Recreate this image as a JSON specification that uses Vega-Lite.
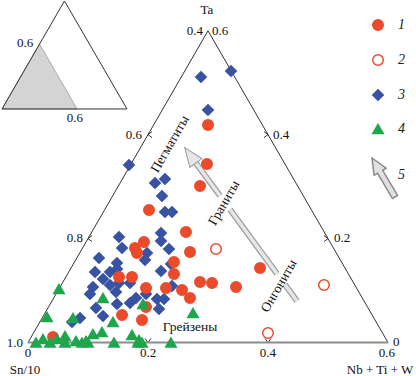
{
  "$schema": "https://vega.github.io/schema/vega-lite/v6.json",
  "width": 416,
  "height": 376,
  "autosize": "none",
  "padding": 0,
  "background": "white",
  "config": {"view": {"stroke": null}, "text": {"font": "Liberation Serif", "fontSize": 12.5, "color": "#111", "baseline": "middle"}},
  "encoding": {
    "x": {"field": "x", "type": "quantitative", "scale": {"domain": [-0.046667, 0.646667], "nice": false, "zero": false}, "axis": null},
    "y": {"field": "y", "type": "quantitative", "scale": {"domain": [-0.055833, 0.570833], "nice": false, "zero": false}, "axis": null}
  },
  "layer": [
    {
      "data": {"values": [{"x": -0.0433, "y": 0.3892}, {"x": 0.0192, "y": 0.4975}, {"x": 0.0817, "y": 0.3892}]},
      "mark": {"type": "area", "fill": "#d4d4d4", "stroke": "#9a9a9a", "strokeWidth": 0.8},
      "encoding": {"y2": {"datum": 0.3892}}
    },
    {
      "data": {"values": [
        {"seg": "io", "o": 0, "x": -0.0433, "y": 0.3892}, {"seg": "io", "o": 1, "x": 0.0608, "y": 0.5692},
        {"seg": "io", "o": 2, "x": 0.165, "y": 0.3892}, {"seg": "io", "o": 3, "x": -0.0433, "y": 0.3892},
        {"seg": "L", "o": 0, "x": 0, "y": 0}, {"seg": "L", "o": 1, "x": 0.3, "y": 0.5196},
        {"seg": "R", "o": 0, "x": 0.3, "y": 0.5196}, {"seg": "R", "o": 1, "x": 0.6, "y": 0},
        {"seg": "b2", "o": 0, "x": 0.195, "y": 0.0067}, {"seg": "b2", "o": 1, "x": 0.2, "y": 0}, {"seg": "b2", "o": 2, "x": 0.205, "y": 0.0067},
        {"seg": "b4", "o": 0, "x": 0.395, "y": 0.0067}, {"seg": "b4", "o": 1, "x": 0.4, "y": 0}, {"seg": "b4", "o": 2, "x": 0.405, "y": 0.0067},
        {"seg": "l8", "o": 0, "x": 0.1067, "y": 0.1782}, {"seg": "l8", "o": 1, "x": 0.1, "y": 0.1732}, {"seg": "l8", "o": 2, "x": 0.1067, "y": 0.1682},
        {"seg": "l6", "o": 0, "x": 0.2067, "y": 0.3514}, {"seg": "l6", "o": 1, "x": 0.2, "y": 0.3464}, {"seg": "l6", "o": 2, "x": 0.2067, "y": 0.3414},
        {"seg": "r2", "o": 0, "x": 0.4933, "y": 0.1782}, {"seg": "r2", "o": 1, "x": 0.5, "y": 0.1732}, {"seg": "r2", "o": 2, "x": 0.4933, "y": 0.1682},
        {"seg": "r4", "o": 0, "x": 0.3933, "y": 0.3514}, {"seg": "r4", "o": 1, "x": 0.4, "y": 0.3464}, {"seg": "r4", "o": 2, "x": 0.3933, "y": 0.3414}
      ]},
      "mark": {"type": "line", "stroke": "#333", "strokeWidth": 1},
      "encoding": {"detail": {"field": "seg"}, "order": {"field": "o"}}
    },
    {
      "data": {"values": [{"x": 0, "y": 0}, {"x": 0.6, "y": 0}]},
      "mark": {"type": "line", "stroke": "#8c8c8c", "strokeWidth": 2},
      "encoding": {}
    },
    {
      "data": {"values": [
        {"seg": "A", "x": 0.2767, "y": 0.3035}, {"seg": "A", "x": 0.32, "y": 0.2445},
        {"seg": "B", "x": 0.3367, "y": 0.2217}, {"seg": "B", "x": 0.415, "y": 0.1147},
        {"seg": "C", "x": 0.4283, "y": 0.0965}, {"seg": "C", "x": 0.4483, "y": 0.0692}
      ]},
      "mark": {"type": "line", "stroke": "#9a9a9a", "strokeWidth": 6, "strokeCap": "butt"},
      "encoding": {"detail": {"field": "seg"}}
    },
    {
      "data": {"values": [
        {"seg": "A", "x": 0.2767, "y": 0.3035}, {"seg": "A", "x": 0.32, "y": 0.2445},
        {"seg": "B", "x": 0.3367, "y": 0.2217}, {"seg": "B", "x": 0.415, "y": 0.1147},
        {"seg": "C", "x": 0.4283, "y": 0.0965}, {"seg": "C", "x": 0.4483, "y": 0.0692}
      ]},
      "mark": {"type": "line", "stroke": "#e6e6e6", "strokeWidth": 3.6, "strokeCap": "butt"},
      "encoding": {"detail": {"field": "seg"}}
    },
    {
      "data": {"values": [{"x": 0.2705, "y": 0.312}]},
      "mark": {"type": "point", "shape": "M0,-9.5L7.5,9.5L-7.5,9.5Z", "size": 4, "angle": 323.8, "filled": true, "fill": "#e6e6e6", "stroke": "#9a9a9a", "strokeWidth": 1, "opacity": 1}
    },
    {
      "data": {"values": [
        {"t": "3", "x": 0.3383, "y": 0.4525}, {"t": "3", "x": 0.2883, "y": 0.4425}, {"t": "3", "x": 0.3, "y": 0.3875},
        {"t": "3", "x": 0.1683, "y": 0.2958}, {"t": "3", "x": 0.2117, "y": 0.2658}, {"t": "3", "x": 0.2283, "y": 0.2725},
        {"t": "3", "x": 0.2233, "y": 0.2442}, {"t": "3", "x": 0.2283, "y": 0.2175}, {"t": "3", "x": 0.24, "y": 0.2175},
        {"t": "3", "x": 0.1517, "y": 0.1758}, {"t": "3", "x": 0.2217, "y": 0.1825}, {"t": "3", "x": 0.2217, "y": 0.1692},
        {"t": "3", "x": 0.1567, "y": 0.1575}, {"t": "3", "x": 0.1983, "y": 0.1492}, {"t": "3", "x": 0.235, "y": 0.1558},
        {"t": "3", "x": 0.1183, "y": 0.1408}, {"t": "3", "x": 0.195, "y": 0.1375}, {"t": "3", "x": 0.1483, "y": 0.1325},
        {"t": "3", "x": 0.2383, "y": 0.1308}, {"t": "3", "x": 0.1117, "y": 0.1175}, {"t": "3", "x": 0.1367, "y": 0.1175},
        {"t": "3", "x": 0.1483, "y": 0.1225}, {"t": "3", "x": 0.2217, "y": 0.1192}, {"t": "3", "x": 0.125, "y": 0.1058},
        {"t": "3", "x": 0.1367, "y": 0.0958}, {"t": "3", "x": 0.1517, "y": 0.0992}, {"t": "3", "x": 0.17, "y": 0.0992},
        {"t": "3", "x": 0.24, "y": 0.0942}, {"t": "3", "x": 0.1083, "y": 0.0925}, {"t": "3", "x": 0.1033, "y": 0.0808},
        {"t": "3", "x": 0.1467, "y": 0.0842}, {"t": "3", "x": 0.1967, "y": 0.0808}, {"t": "3", "x": 0.18, "y": 0.0742},
        {"t": "3", "x": 0.215, "y": 0.0725}, {"t": "3", "x": 0.2267, "y": 0.0725}, {"t": "3", "x": 0.17, "y": 0.0658},
        {"t": "3", "x": 0.1483, "y": 0.0642}, {"t": "3", "x": 0.1133, "y": 0.0575}, {"t": "3", "x": 0.2183, "y": 0.0558},
        {"t": "3", "x": 0.125, "y": 0.0442}, {"t": "3", "x": 0.0867, "y": 0.0408}, {"t": "3", "x": 0.0733, "y": 0.0342},
        {"t": "1", "x": 0.3, "y": 0.3625}, {"t": "1", "x": 0.2983, "y": 0.2975}, {"t": "1", "x": 0.2867, "y": 0.2608},
        {"t": "1", "x": 0.2017, "y": 0.2208}, {"t": "1", "x": 0.2633, "y": 0.1842}, {"t": "1", "x": 0.1933, "y": 0.1675},
        {"t": "1", "x": 0.1783, "y": 0.1575}, {"t": "1", "x": 0.1817, "y": 0.1492}, {"t": "1", "x": 0.27, "y": 0.1508},
        {"t": "1", "x": 0.2433, "y": 0.1342}, {"t": "1", "x": 0.2433, "y": 0.1142}, {"t": "1", "x": 0.1733, "y": 0.1092},
        {"t": "1", "x": 0.1517, "y": 0.1092}, {"t": "1", "x": 0.3867, "y": 0.1242}, {"t": "1", "x": 0.2867, "y": 0.1008},
        {"t": "1", "x": 0.3067, "y": 0.0992}, {"t": "1", "x": 0.3467, "y": 0.0925}, {"t": "1", "x": 0.1967, "y": 0.0908},
        {"t": "1", "x": 0.23, "y": 0.0908}, {"t": "1", "x": 0.2567, "y": 0.0875}, {"t": "1", "x": 0.27, "y": 0.0742},
        {"t": "1", "x": 0.1967, "y": 0.0592}, {"t": "1", "x": 0.19, "y": 0.0375}, {"t": "1", "x": 0.1567, "y": 0.0458},
        {"t": "1", "x": 0.0417, "y": 0.0092},
        {"t": "2", "x": 0.3133, "y": 0.1558}, {"t": "2", "x": 0.4933, "y": 0.0958}, {"t": "2", "x": 0.4, "y": 0.0158},
        {"t": "4", "x": 0.0517, "y": 0.0892}, {"t": "4", "x": 0.0317, "y": 0.0425}, {"t": "4", "x": 0.075, "y": 0.0408},
        {"t": "4", "x": 0.1417, "y": 0.0342}, {"t": "4", "x": 0.125, "y": 0.0742}, {"t": "4", "x": 0.1917, "y": 0.0642},
        {"t": "4", "x": 0.275, "y": 0.0492}, {"t": "4", "x": 0.1083, "y": 0.0142}, {"t": "4", "x": 0.1233, "y": 0.0175},
        {"t": "4", "x": 0.1733, "y": 0.0125}, {"t": "4", "x": 0.0133, "y": 0.0}, {"t": "4", "x": 0.025, "y": 0.0058},
        {"t": "4", "x": 0.0367, "y": 0.0}, {"t": "4", "x": 0.0483, "y": 0.0058}, {"t": "4", "x": 0.0617, "y": 0.0108},
        {"t": "4", "x": 0.0617, "y": 0.0}, {"t": "4", "x": 0.08, "y": 0.0025}, {"t": "4", "x": 0.09, "y": 0.0},
        {"t": "4", "x": 0.0967, "y": 0.0025}, {"t": "4", "x": 0.1, "y": 0.0}, {"t": "4", "x": 0.1433, "y": 0.0},
        {"t": "4", "x": 0.1833, "y": 0.0}, {"t": "4", "x": 0.185, "y": 0.0042}, {"t": "4", "x": 0.19, "y": 0.0},
        {"t": "4", "x": 0.2383, "y": 0.0}
      ]},
      "mark": {"type": "point", "filled": true, "size": 110, "strokeWidth": 1.5, "opacity": 1},
      "encoding": {
        "shape": {"field": "t", "type": "nominal",
          "scale": {"domain": ["1", "2", "3", "4", "5"], "range": ["circle", "circle", "diamond", "triangle-up", "M-1.144,-3.242L1.556,-1.293L0.898,-0.904L3.734,3.905L2.750,4.485L-0.086,-0.324L-0.744,0.065Z"]},
          "legend": {"title": null, "orient": "none", "legendX": 371, "legendY": 18, "symbolSize": 110, "symbolStrokeWidth": 1.5, "labelFont": "Liberation Serif", "labelFontStyle": "italic", "labelFontSize": 14, "labelColor": "#222", "rowPadding": 17, "labelOffset": 13, "padding": 0}},
        "fill": {"field": "t", "type": "nominal",
          "scale": {"domain": ["1", "2", "3", "4", "5"], "range": ["#eb4a2b", "#ffffff", "#3852a4", "#1fa64d", "#e0e0e0"]},
          "legend": {"title": null, "orient": "none", "legendX": 371, "legendY": 18, "symbolSize": 110, "symbolStrokeWidth": 1.5, "labelFont": "Liberation Serif", "labelFontStyle": "italic", "labelFontSize": 14, "labelColor": "#222", "rowPadding": 17, "labelOffset": 13, "padding": 0}},
        "stroke": {"field": "t", "type": "nominal",
          "scale": {"domain": ["1", "2", "3", "4", "5"], "range": ["#eb4a2b", "#eb4a2b", "#3852a4", "#1fa64d", "#8a8a8a"]},
          "legend": {"title": null, "orient": "none", "legendX": 371, "legendY": 18, "symbolSize": 110, "symbolStrokeWidth": 1.5, "labelFont": "Liberation Serif", "labelFontStyle": "italic", "labelFontSize": 14, "labelColor": "#222", "rowPadding": 17, "labelOffset": 13, "padding": 0}}
      }
    },
    {
      "data": {"values": [
        {"label": "Ta", "x": 0.2983, "y": 0.5542},
        {"label": "0", "x": 0, "y": -0.0167},
        {"label": "Sn/10", "x": -0.005, "y": -0.0458},
        {"label": "0.2", "x": 0.2, "y": -0.0167},
        {"label": "0.4", "x": 0.4, "y": -0.0167},
        {"label": "0.6", "x": 0.5983, "y": -0.0167},
        {"label": "Nb + Ti + W", "x": 0.5867, "y": -0.0458},
        {"label": "0.6", "x": -0.005, "y": 0.4992},
        {"label": "0.6", "x": 0.0783, "y": 0.3742}
      ]},
      "mark": {"type": "text", "align": "center", "fontSize": 13},
      "encoding": {"text": {"field": "label"}}
    },
    {
      "data": {"values": [
        {"label": "Грейзены", "x": 0.27, "y": 0.0258}
      ]},
      "mark": {"type": "text", "align": "center", "fontSize": 13.5},
      "encoding": {"text": {"field": "label"}}
    },
    {
      "data": {"values": [
        {"label": "0.4", "x": 0.2917, "y": 0.5192},
        {"label": "0.6", "x": 0.19, "y": 0.3458},
        {"label": "0.8", "x": 0.0917, "y": 0.1742},
        {"label": "1.0", "x": -0.0083, "y": -0.0008}
      ]},
      "mark": {"type": "text", "align": "right", "fontSize": 13},
      "encoding": {"text": {"field": "label"}}
    },
    {
      "data": {"values": [
        {"label": "0.6", "x": 0.3067, "y": 0.5192},
        {"label": "0.4", "x": 0.4083, "y": 0.3458},
        {"label": "0.2", "x": 0.51, "y": 0.1742},
        {"label": "0", "x": 0.6083, "y": 0.0008}
      ]},
      "mark": {"type": "text", "align": "left", "fontSize": 13},
      "encoding": {"text": {"field": "label"}}
    },
    {
      "data": {"values": [
        {"label": "Пегматиты", "x": 0.2367, "y": 0.3308},
        {"label": "Граниты", "x": 0.3267, "y": 0.2325},
        {"label": "Онгониты", "x": 0.4183, "y": 0.0942}
      ]},
      "mark": {"type": "text", "align": "center", "angle": 300, "fontSize": 13.5},
      "encoding": {"text": {"field": "label"}}
    }
  ]
}
